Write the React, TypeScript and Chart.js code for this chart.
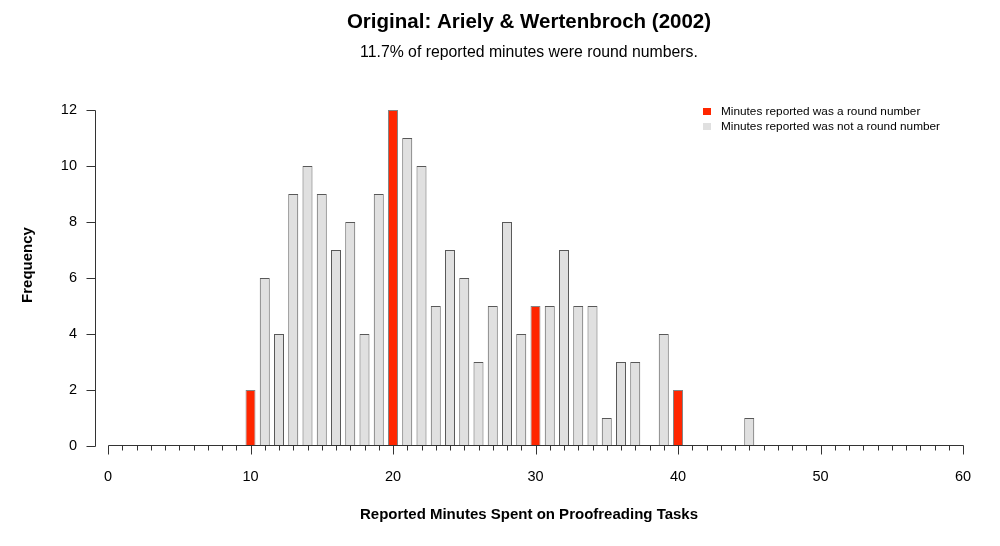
import React, { useEffect, useRef } from "react";
import { Chart, registerables } from "chart.js";

Chart.register(...registerables);

// ---- data ----
const minutes = [
  10, 11, 12, 13, 14, 15, 16, 17, 18, 19,
  20, 21, 22, 23, 24, 25, 26, 27, 28, 29,
  30, 31, 32, 33, 34, 35, 36, 37, 38, 39,
  40, 41, 42, 43, 44, 45,
];
const frequency = [
  2, 6, 4, 9, 10, 9, 7, 8, 4, 9,
  12, 11, 10, 5, 7, 6, 3, 5, 8, 4,
  5, 5, 7, 5, 5, 1, 3, 3, 0, 4,
  2, 0, 0, 0, 0, 1,
];
const roundMinutes = [10, 20, 30, 40];
const xTickValues = [0, 10, 20, 30, 40, 50, 60];
const yTickValues = [0, 2, 4, 6, 8, 10, 12];
const titleText = "Original: Ariely & Wertenbroch (2002)";
const subtitleText = "11.7% of reported minutes were round numbers.";
const xAxisTitle = "Reported Minutes Spent on Proofreading Tasks";
const yAxisTitle = "Frequency";
const legendLabels = [
  "Minutes reported was a round number",
  "Minutes reported was not a round number",
];
const seriesColors = ["#FF2600", "#E0E0E0"];

const FONT = '"Liberation Sans", Arial, Helvetica, sans-serif';
const AXIS_COLOR = "#333333";

const roundPoints = minutes
  .map((m, i) => ({ x: m, y: frequency[i] }))
  .filter((p) => roundMinutes.includes(p.x));
const otherPoints = minutes
  .map((m, i) => ({ x: m, y: frequency[i] }))
  .filter((p) => !roundMinutes.includes(p.x));

const rStylePlugin = {
  id: "rStyle",
  afterDatasetsDraw(chart: any) {
    const { ctx, chartArea, scales } = chart;
    const xs = scales.x;
    const ys = scales.y;
    ctx.save();
    ctx.strokeStyle = AXIS_COLOR;
    ctx.lineWidth = 1;
    // x axis with a tick at every minute
    const xMin = xTickValues[0];
    const xMax = xTickValues[xTickValues.length - 1];
    const y0 = Math.round(ys.getPixelForValue(0)) - 0.5;
    ctx.beginPath();
    ctx.moveTo(Math.round(xs.getPixelForValue(xMin)) + 0.5, y0);
    ctx.lineTo(Math.round(xs.getPixelForValue(xMax)) + 0.5, y0);
    for (let v = xMin; v <= xMax; v++) {
      const px = Math.round(xs.getPixelForValue(v)) + 0.5;
      const len = xTickValues.includes(v) ? 9 : 5;
      ctx.moveTo(px, y0);
      ctx.lineTo(px, y0 + len);
    }
    ctx.stroke();
    // y axis, offset to the left
    const ax = Math.round(chartArea.left - 13) + 0.5;
    const yTop = Math.round(ys.getPixelForValue(yTickValues[yTickValues.length - 1])) + 0.5;
    const yBot = Math.round(ys.getPixelForValue(yTickValues[0])) + 0.5;
    ctx.beginPath();
    ctx.moveTo(ax, yTop);
    ctx.lineTo(ax, yBot);
    for (const v of yTickValues) {
      const py = Math.round(ys.getPixelForValue(v)) + 0.5;
      ctx.moveTo(ax, py);
      ctx.lineTo(ax - 9, py);
    }
    ctx.stroke();
    ctx.restore();
  },
  afterDraw(chart: any) {
    const { ctx } = chart;
    const cx = 529;
    ctx.save();
    ctx.fillStyle = "#000";
    ctx.textAlign = "center";
    ctx.textBaseline = "middle";
    ctx.font = `bold 20.5px ${FONT}`;
    ctx.fillText(titleText, cx, 22);
    ctx.font = `15.8px ${FONT}`;
    ctx.fillText(subtitleText, cx, 53);
    ctx.font = `bold 15px ${FONT}`;
    ctx.fillText(xAxisTitle, cx, 515);
    ctx.save();
    ctx.translate(28, 265);
    ctx.rotate(-Math.PI / 2);
    ctx.fillText(yAxisTitle, 0, 0);
    ctx.restore();
    // legend
    ctx.textAlign = "left";
    ctx.font = `11.8px ${FONT}`;
    legendLabels.forEach((label, i) => {
      const rowY = 111.5 + i * 15;
      ctx.fillStyle = seriesColors[i];
      ctx.fillRect(703, rowY - 3.5, 8, 7);
      ctx.fillStyle = "#000";
      ctx.fillText(label, 721, rowY);
    });
    ctx.restore();
  },
};

export default function App() {
  const canvasRef = useRef<HTMLCanvasElement | null>(null);

  useEffect(() => {
    const canvas = canvasRef.current;
    if (!canvas) return;
    const chart = new Chart(canvas, {
      type: "bar",
      data: {
        datasets: [
          {
            label: legendLabels[0],
            data: roundPoints,
            backgroundColor: seriesColors[0],
            borderColor: "rgba(110,110,110,0.85)",
            borderWidth: 1,
            barPercentage: 0.7,
            categoryPercentage: 1,
            grouped: false,
          } as any,
          {
            label: legendLabels[1],
            data: otherPoints,
            backgroundColor: seriesColors[1],
            borderColor: "rgba(70,70,70,0.9)",
            borderWidth: 1,
            barPercentage: 0.7,
            categoryPercentage: 1,
            grouped: false,
          } as any,
        ],
      },
      options: {
        animation: false,
        responsive: false,
        maintainAspectRatio: false,
        layout: { padding: { left: 0, right: 37, top: 110, bottom: 0 } },
        scales: {
          x: {
            type: "linear",
            min: 0,
            max: 60,
            offset: false,
            grid: { display: false, drawTicks: false },
            border: { display: false },
            ticks: {
              stepSize: 10,
              padding: 22,
              color: "#000",
              maxRotation: 0,
              autoSkip: false,
              font: { family: FONT, size: 14.5 },
            },
            afterFit: (s: any) => {
              s.height = 100;
            },
          },
          y: {
            type: "linear",
            min: 0,
            max: 12,
            grid: { display: false, drawTicks: false },
            border: { display: false },
            ticks: {
              stepSize: 2,
              padding: 31,
              color: "#000",
              font: { family: FONT, size: 14.5 },
            },
            afterFit: (s: any) => {
              s.width = 108;
            },
          },
        },
        plugins: {
          legend: { display: false },
          tooltip: { enabled: false },
          title: { display: false },
        },
      } as any,
      plugins: [rStylePlugin],
    });
    return () => chart.destroy();
  }, []);

  return (
    <div style={{ position: "absolute", left: 0, top: 0, width: 1000, height: 546, background: "#fff" }}>
      <canvas ref={canvasRef} width={1000} height={546} style={{ display: "block" }} />
    </div>
  );
}
